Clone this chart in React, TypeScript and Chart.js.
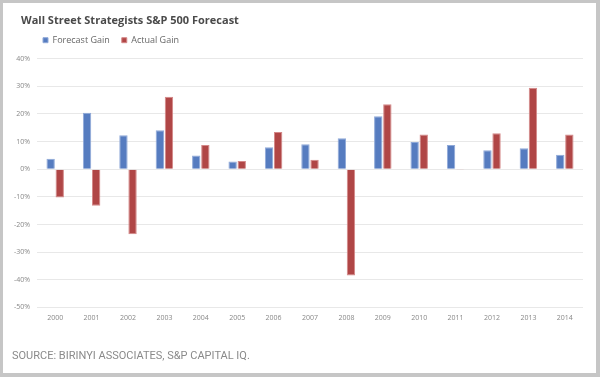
import React, { useEffect, useRef } from "react";
import { Chart, registerables } from "chart.js";

Chart.register(...registerables);

const years = ["2000","2001","2002","2003","2004","2005","2006","2007","2008","2009","2010","2011","2012","2013","2014"];
const forecastGain = [3.8, 20.4, 12.3, 14.1, 5.0, 2.8, 8.0, 9.0, 11.2, 19.2, 9.9, 8.8, 6.9, 7.6, 5.2];
const actualGain = [-10.2, -13.2, -23.5, 26.2, 8.8, 3.0, 13.5, 3.4, -38.5, 23.5, 12.6, -0.3, 13.0, 29.5, 12.6];
const yTicks = [40, 30, 20, 10, 0, -10, -20, -30, -40, -50];

const titleText = "Wall Street Strategists S&P 500 Forecast";
const sourceText = "SOURCE: BIRINYI ASSOCIATES, S&P CAPITAL IQ.";

export default function App() {
  const ref = useRef<HTMLCanvasElement | null>(null);
  useEffect(() => {
    if (!ref.current) return;
    const shiftPlugin = {
      id: "shiftBoxes",
      afterLayout(chart: any) {
        if (chart.titleBlock) chart.titleBlock.left = 18;
        if (chart.legend) {
          chart.legend.left = 28;
          chart.legend.top -= 4;
        }
      },
    };
    const chart = new Chart(ref.current, {
      type: "bar",
      data: {
        labels: years,
        datasets: [
          {
            label: "Forecast Gain",
            data: forecastGain,
            backgroundColor: "#567CC0",
            borderColor: "#8FA9D8",
            borderWidth: 1,
          },
          {
            label: "Actual Gain",
            data: actualGain,
            backgroundColor: "#B04646",
            borderColor: "#D48888",
            borderWidth: 1,
          },
        ],
      },
      options: {
        animation: false,
        responsive: false,
        maintainAspectRatio: false,
        layout: { padding: { left: 9, right: 13, top: 2, bottom: 4 } },
        datasets: { bar: { categoryPercentage: 0.5, barPercentage: 0.92 } },
        plugins: {
          title: {
            display: true,
            text: titleText,
            align: "start",
            color: "#4a4a4a",
            font: { family: "Open Sans", size: 11, weight: "bold" },
            padding: { top: 9, bottom: 0.5 },
          },
          legend: {
            display: true,
            position: "top",
            align: "start",
            fullSize: false,
            labels: {
              boxWidth: 5,
              boxHeight: 5,
              padding: 12,
              color: "#666",
              font: { family: "Open Sans", size: 9 },
            },
          },
          subtitle: {
            display: true,
            text: sourceText,
            position: "bottom",
            align: "start",
            color: "#8a8a8a",
            font: { family: "Liberation Sans Narrow, Roboto, sans-serif", size: 11 },
            padding: { top: 22, bottom: 6 },
          },
          tooltip: { enabled: false },
        },
        scales: {
          x: {
            grid: { display: false, drawTicks: false },
            border: { display: false },
            ticks: { color: "#888", font: { family: "Open Sans", size: 7 }, padding: 6, maxRotation: 0 },
          },
          y: {
            min: -50,
            max: 40,
            afterFit(scale: any) { scale.width = 25; },
            afterBuildTicks(scale: any) { scale.ticks = yTicks.map((v) => ({ value: v })); },
            grid: { color: "#e8e8e8", drawTicks: false, lineWidth: 1 },
            border: { display: false },
            ticks: {
              color: "#888",
              font: { family: "Open Sans", size: 7 },
              padding: 7,
              callback: (v: any) => `${v}%`,
            },
          },
        },
      },
      plugins: [shiftPlugin],
    });
    return () => chart.destroy();
  }, []);

  return (
    <div
      style={{
        position: "fixed",
        left: 0,
        top: 0,
        width: 600,
        height: 377,
        boxSizing: "border-box",
        background: "#fff",
        borderTop: "3px solid #c6c6c6",
        borderLeft: "3px solid #c6c6c6",
        borderRight: "4px solid #c6c6c6",
        borderBottom: "4px solid #c6c6c6",
      }}
    >
      <canvas ref={ref} width={593} height={370} style={{ display: "block", width: 593, height: 370 }} />
    </div>
  );
}
